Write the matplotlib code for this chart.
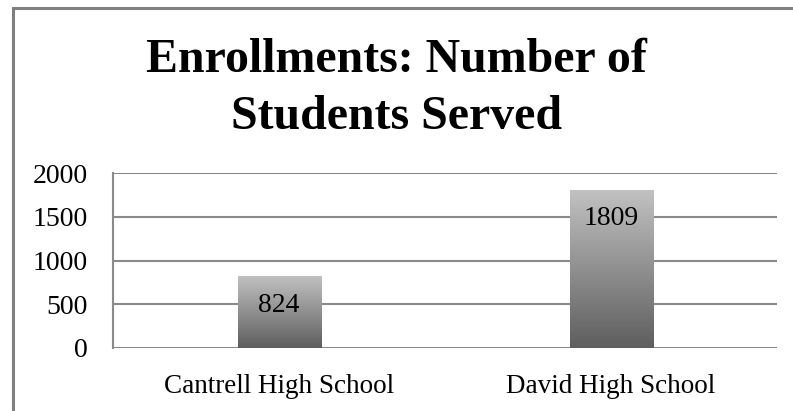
import matplotlib
matplotlib.use("Agg")
import matplotlib.pyplot as plt
import numpy as np
from matplotlib.patches import Rectangle
from matplotlib.colors import LinearSegmentedColormap

plt.rcParams['font.family'] = ['Liberation Serif', 'DejaVu Serif']

schools = ["Cantrell High School", "David High School"]
students = [824, 1809]
yticks = [0, 500, 1000, 1500, 2000]
title = "Enrollments: Number of\nStudents Served"

grid_col = "#8a8a8a"
grad = LinearSegmentedColormap.from_list("bar", ["#5e5e5e", "#c2c2c2"])

fig = plt.figure(figsize=(7.93, 4.11), dpi=100)
ax = fig.add_axes([0.1425, 0.1533, 0.8375, 0.4257])

x = np.arange(len(schools))
bars = ax.bar(x, students, width=0.25, color="none", edgecolor="none", zorder=3)

# gradient fill, light at top, dark at bottom
g = np.linspace(0, 1, 256).reshape(-1, 1)
for b in bars:
    x0, w, h = b.get_x(), b.get_width(), b.get_height()
    im = ax.imshow(g, cmap=grad, aspect="auto", origin="lower",
                   extent=[x0, x0 + w, 0, h], zorder=3)
    im.set_clip_path(b)

for xi, v in zip(x, students):
    ax.annotate(str(v), (xi, v), xytext=(0, -21), textcoords="offset points",
                ha="center", va="center", fontsize=20, zorder=4)

ax.set_xlim(-0.5, 1.5)
ax.set_ylim(0, 2000)
ax.set_yticks(yticks)
ax.set_yticklabels([str(t) for t in yticks], fontsize=20)
ax.set_xticks(x)
ax.set_xticklabels(schools, fontsize=19.5)
ax.tick_params(axis="y", length=0, pad=18)
ax.tick_params(axis="x", length=0, pad=19)
ax.yaxis.grid(True, color=grid_col, linewidth=1.5, zorder=0)
ax.set_axisbelow(True)
for s in ["top", "right", "bottom"]:
    ax.spines[s].set_visible(False)
ax.spines["left"].set_color(grid_col)
ax.spines["left"].set_linewidth(1.5)

fig.text(0.5, 0.785, title, ha="center", va="center", fontsize=34.5,
         fontweight="bold", linespacing=1.4)

# outer chart frame (cut off at right and bottom)
fig.patches.append(Rectangle((13 / 793, -0.1), 1.2, 1 - 8 / 411 + 0.1,
                             transform=fig.transFigure, fill=False,
                             edgecolor="#7f7f7f", linewidth=2.2))

fig.savefig("out.png", dpi=100)
